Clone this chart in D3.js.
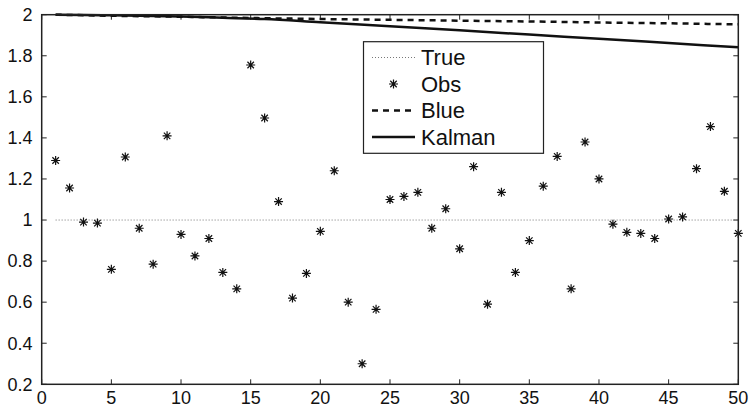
<!DOCTYPE html>
<html>
<head>
<meta charset="utf-8">
<script src="https://cdn.jsdelivr.net/npm/d3@7"></script>
<style>
  body { margin: 0; background: #fff; }
  text { font-family: "Liberation Sans", Arial, sans-serif; fill: #111; }
</style>
</head>
<body>
<div id="chart"></div>
<script>
// observations, one per time step 1..50
var obsX = d3.range(1, 51);
var obsY = [1.29, 1.156, 0.99, 0.985, 0.76, 1.307, 0.96, 0.785, 1.41, 0.93,
            0.825, 0.91, 0.745, 0.665, 1.755, 1.497, 1.09, 0.62, 0.74, 0.945,
            1.24, 0.60, 0.30, 0.565, 1.10, 1.115, 1.135, 0.96, 1.055, 0.86,
            1.26, 0.59, 1.135, 0.745, 0.90, 1.165, 1.31, 0.665, 1.38, 1.20,
            0.98, 0.94, 0.935, 0.91, 1.005, 1.015, 1.25, 1.455, 1.14, 0.935];
// true value
var trueX = [1, 50];
var trueY = [1, 1];
// blue estimate (sampled)
var blueX = [1, 5, 10, 15, 20, 25, 30, 35, 40, 45, 50];
var blueY = [2.0, 1.995, 1.99, 1.984, 1.979, 1.975, 1.971, 1.967, 1.962, 1.958, 1.953];
// kalman estimate (sampled)
var kalX = [1, 3, 5, 8, 10, 13, 16, 20, 25, 30, 35, 40, 45, 50];
var kalY = [2.0, 1.999, 1.997, 1.994, 1.991, 1.985, 1.979, 1.963, 1.944, 1.924, 1.903, 1.883, 1.862, 1.841];

var xTicks = [0, 5, 10, 15, 20, 25, 30, 35, 40, 45, 50];
var yTicks = [0.2, 0.4, 0.6, 0.8, 1, 1.2, 1.4, 1.6, 1.8, 2];
var legendNames = ['True', 'Obs', 'Blue', 'Kalman'];

var W = 749, H = 413;
var plotL = 41.7, plotR = 738.3, plotT = 14.7, plotB = 384.3;

var svg = d3.select('#chart').append('svg')
    .attr('width', W)
    .attr('height', H);

var x = d3.scaleLinear().domain([0, 50]).range([plotL, plotR]);
var y = d3.scaleLinear().domain([0.2, 2]).range([plotB, plotT]);

// ticks on all four sides, pointing inward (matlab box)
var tickLen = 5;
var g = svg.append('g');
xTicks.forEach(function(t) {
  g.append('line').attr('x1', x(t)).attr('x2', x(t)).attr('y1', plotB).attr('y2', plotB - tickLen)
    .attr('stroke', '#222').attr('stroke-width', 1);
  g.append('line').attr('x1', x(t)).attr('x2', x(t)).attr('y1', plotT).attr('y2', plotT + tickLen)
    .attr('stroke', '#222').attr('stroke-width', 1);
  g.append('text').attr('x', x(t)).attr('y', 404).attr('text-anchor', 'middle')
    .style('font-size', '18px').text(t);
});
yTicks.forEach(function(t) {
  g.append('line').attr('x1', plotL).attr('x2', plotL + tickLen).attr('y1', y(t)).attr('y2', y(t))
    .attr('stroke', '#222').attr('stroke-width', 1);
  g.append('line').attr('x1', plotR).attr('x2', plotR - tickLen).attr('y1', y(t)).attr('y2', y(t))
    .attr('stroke', '#222').attr('stroke-width', 1);
  g.append('text').attr('x', 32.5).attr('y', y(t) + 6.3).attr('text-anchor', 'end')
    .style('font-size', '18px').text(d3.format('~g')(t));
});

var line = d3.line().x(function(d) { return x(d[0]); }).y(function(d) { return y(d[1]); });

// true
svg.append('path')
    .datum(d3.zip(trueX, trueY))
    .attr('d', line)
    .attr('fill', 'none').attr('stroke', '#777').attr('stroke-width', 1)
    .attr('stroke-dasharray', '1,2');

// blue
svg.append('path')
    .datum(d3.zip(blueX, blueY))
    .attr('d', line.curve(d3.curveMonotoneX))
    .attr('fill', 'none').attr('stroke', '#111').attr('stroke-width', 2.5)
    .attr('stroke-dasharray', '6,5');

// kalman
svg.append('path')
    .datum(d3.zip(kalX, kalY))
    .attr('d', line.curve(d3.curveMonotoneX))
    .attr('fill', 'none').attr('stroke', '#111').attr('stroke-width', 2.5);

function star(sel, cx, cy, r) {
  var d = 'M' + (cx - r) + ',' + cy + 'H' + (cx + r) +
          'M' + cx + ',' + (cy - r) + 'V' + (cy + r) +
          'M' + (cx - r * 0.72) + ',' + (cy - r * 0.72) + 'L' + (cx + r * 0.72) + ',' + (cy + r * 0.72) +
          'M' + (cx - r * 0.72) + ',' + (cy + r * 0.72) + 'L' + (cx + r * 0.72) + ',' + (cy - r * 0.72);
  sel.append('path').attr('d', d).attr('stroke', '#111').attr('stroke-width', 1.2).attr('fill', 'none');
}

// observations
var obsG = svg.append('g');
d3.zip(obsX, obsY).forEach(function(p) { star(obsG, x(p[0]), y(p[1]), 4.5); });

// axes box
svg.append('rect')
    .attr('x', plotL).attr('y', plotT)
    .attr('width', plotR - plotL).attr('height', plotB - plotT)
    .attr('fill', 'none').attr('stroke', '#222').attr('stroke-width', 1.5);

// legend
var lg = svg.append('g');
lg.append('rect').attr('x', 363.5).attr('y', 41.7).attr('width', 180).attr('height', 111.6)
  .attr('fill', '#fff').attr('stroke', '#222').attr('stroke-width', 1.2);
var rowY = [57.5, 84, 110.5, 137];
legendNames.forEach(function(name, i) {
  var yy = rowY[i];
  if (i === 0) {
    lg.append('line').attr('x1', 372).attr('x2', 415).attr('y1', yy).attr('y2', yy)
      .attr('stroke', '#777').attr('stroke-width', 1).attr('stroke-dasharray', '1,2');
  } else if (i === 1) {
    star(lg, 393.5, yy, 4.5);
  } else if (i === 2) {
    lg.append('line').attr('x1', 372).attr('x2', 415).attr('y1', yy).attr('y2', yy)
      .attr('stroke', '#111').attr('stroke-width', 2.5).attr('stroke-dasharray', '6,5');
  } else {
    lg.append('line').attr('x1', 372).attr('x2', 415).attr('y1', yy).attr('y2', yy)
      .attr('stroke', '#111').attr('stroke-width', 2.5);
  }
  lg.append('text').attr('x', 421).attr('y', yy + 7.8).style('font-size', '22px').text(name);
});
</script>
</body>
</html>
